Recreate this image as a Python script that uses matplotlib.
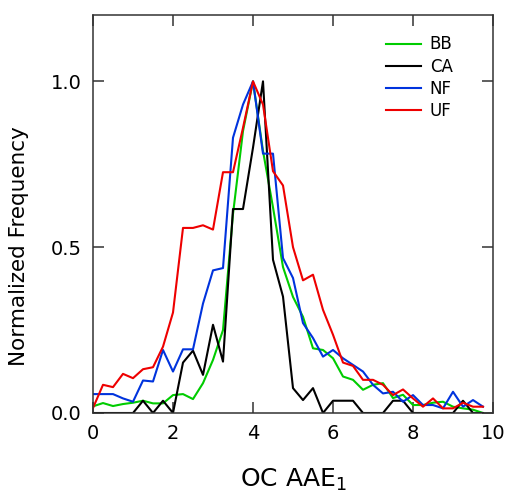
import numpy as np
import matplotlib
matplotlib.use('Agg')
import matplotlib.pyplot as plt

# bin centres of the OC AAE histogram
aae = np.arange(0, 10, 0.25)

bb = [0.02, 0.03, 0.021, 0.027, 0.031, 0.037, 0.029, 0.029, 0.054, 0.057,
      0.042, 0.09, 0.16, 0.25, 0.6, 0.85, 1.0, 0.79, 0.62, 0.44,
      0.35, 0.29, 0.195, 0.19, 0.165, 0.11, 0.1, 0.07, 0.085, 0.09,
      0.045, 0.055, 0.024, 0.024, 0.031, 0.034, 0.019, 0.014, 0.01, 0.0]
ca = [0, 0, 0, 0, 0, 0.037, 0, 0.037, 0, 0.152,
      0.188, 0.115, 0.266, 0.155, 0.615, 0.615, 0.8, 1.0, 0.462, 0.351,
      0.075, 0.039, 0.075, 0, 0.037, 0.037, 0.037, 0, 0, 0,
      0.037, 0.037, 0, 0, 0, 0, 0, 0.037, 0, 0]
nf = [0.057, 0.057, 0.057, 0.044, 0.034, 0.098, 0.095, 0.19, 0.125, 0.192,
      0.192, 0.33, 0.43, 0.437, 0.83, 0.93, 1.0, 0.782, 0.782, 0.467,
      0.407, 0.271, 0.226, 0.17, 0.19, 0.165, 0.145, 0.125, 0.085, 0.059,
      0.064, 0.034, 0.054, 0.024, 0.024, 0.014, 0.064, 0.019, 0.039, 0.019]
uf = [0.015, 0.085, 0.078, 0.118, 0.105, 0.132, 0.138, 0.2, 0.303, 0.558,
      0.558, 0.566, 0.553, 0.726, 0.726, 0.86, 1.0, 0.93, 0.729, 0.686,
      0.5, 0.4, 0.417, 0.311, 0.236, 0.152, 0.142, 0.1, 0.1, 0.085,
      0.054, 0.071, 0.044, 0.019, 0.044, 0.014, 0.014, 0.031, 0.019, 0.019]

series = [('BB', bb, '#00cc00'), ('CA', ca, 'black'),
          ('NF', nf, '#0033dd'), ('UF', uf, '#ee0000')]

fig = plt.figure(figsize=(5.06, 4.96), dpi=100)
ax = fig.add_axes([93/506, 83/496, 400/506, 398/496])

for name, vals, col in series:
    ax.plot(aae, vals, color=col, lw=1.5, label=name)

ax.set_xlim(0, 10)
ax.set_ylim(0, 1.2)
ax.set_xticks([0, 2, 4, 6, 8, 10])
ax.set_yticks([0, 0.5, 1.0])
ax.set_yticklabels(['0.0', '0.5', '1.0'])

for s in ax.spines.values():
    s.set_color('#333333')
    s.set_linewidth(1.1)
ax.tick_params(direction='in', length=8, width=1.1, color='#333333',
               top=True, right=True, labelsize=14, pad=8)

ax.set_xlabel('OC AAE$_1$', fontsize=18)
ax.xaxis.set_label_coords(0.5, -0.135)
ax.set_ylabel('Normalized Frequency', fontsize=15.5)
ax.yaxis.set_label_coords(-0.16, 0.42)

ax.legend(loc='upper left', bbox_to_anchor=(0.70, 0.982), frameon=False,
          fontsize=12, labelspacing=0.25, handlelength=2.1,
          handletextpad=0.5, borderpad=0.3)

plt.savefig('out.png', dpi=100)
